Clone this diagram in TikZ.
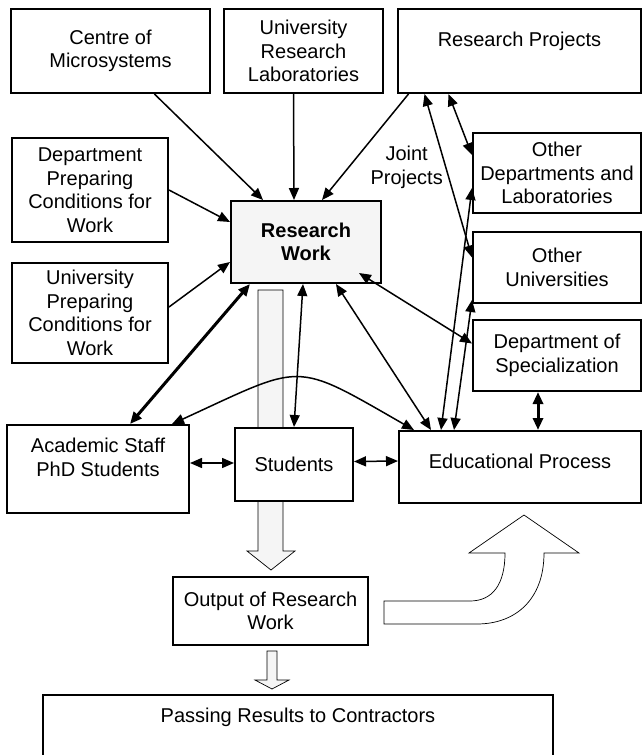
\documentclass[tikz,border=0pt]{standalone}
\usepackage{fontspec}
\setmainfont{Liberation Sans}
\usetikzlibrary{arrows.meta}

\begin{document}
\begin{tikzpicture}[x=1pt, y=-1pt,
        >={Triangle[length=12pt,width=10pt]},
        box/.style={draw, line width=2pt, fill=white, inner sep=0pt, align=center,
            font=\fontsize{20}{23.5}\selectfont},
        link/.style={line width=1.5pt},
        heavy/.style={line width=3pt},
        hollow/.style={draw, line width=0.7pt}]
        \useasboundingbox (0,0) rectangle (642,755);
        \clip (0,0) rectangle (642,755);

        % Wide arrows
        \draw[hollow, fill=gray!8] (258,290) -- (283,290) -- (283,551) -- (295,551) -- (271,570)
            -- (247,551) -- (258,551) -- cycle;
        \draw[hollow, fill=gray!8] (267,651) -- (277,651) -- (277,680) -- (289,680) -- (272,689)
            -- (255,680) -- (267,680) -- cycle;
        \draw[hollow, fill=white] (384,601) -- (470,601) .. controls (492,601) and (505,585) .. (505,553)
            -- (469,553) -- (524,515) -- (579,553) -- (544,553)
            .. controls (544,600) and (515,624) .. (477,624) -- (384,624) -- cycle;

        % Nodes
        \node[box, minimum width=199pt, minimum height=84pt] (centre) at (110.5,51) {Centre of\\Microsystems};
        \node[box, minimum width=159pt, minimum height=84pt] (url) at (303.5,51) {University\\Research\\Laboratories};
        \node[box, minimum width=243pt, text height=37pt, text depth=47pt] (rp) at (519.5,51) {Research Projects};
        \node[box, minimum width=156pt, minimum height=104pt] (deptprep) at (90,190) {Department\\Preparing\\Conditions for\\Work};
        \node[box, minimum width=150pt, minimum height=82pt, fill=gray!8, font=\fontsize{20}{23.5}\selectfont\bfseries] (rw) at (306,242) {Research\\Work};
        \node[box, minimum width=156pt, minimum height=100pt] (univprep) at (90,313) {University\\Preparing\\Conditions for\\Work};
        \node[box, minimum width=168pt, minimum height=80pt] (od) at (557,173) {Other\\Departments and\\Laboratories};
        \node[box, minimum width=168pt, minimum height=71pt] (ou) at (557,267.5) {Other\\Universities};
        \node[box, minimum width=168pt, minimum height=71pt] (spec) at (557,355.5) {Department of\\Specialization};
        \node[box, minimum width=182pt, minimum height=88pt] (staff) at (98,469) {Academic Staff\\PhD Students\\~};
        \node[box, minimum width=118pt, minimum height=73pt] (students) at (294,464.5) {Students};
        \node[box, minimum width=242pt, text height=37pt, text depth=35pt] (ep) at (520,467) {Educational Process};
        \node[box, minimum width=195pt, minimum height=68pt] (output) at (270.5,611) {Output of Research\\Work};
        \node[box, minimum width=510pt, text height=27pt, text depth=80pt] (passing) at (298,748.5) {Passing Results to Contractors};

        % Edges into research work
        \draw[link, ->] (centre) -- (rw);
        \draw[link, ->] ([xshift=-10pt]url.south) -- ([xshift=-12pt]rw.north);
        \draw[link, ->] ([xshift=-111pt]rp.south) -- ([xshift=16pt]rw.north);
        \draw[link, ->] (deptprep.east) -- ([yshift=20pt]rw.west);
        \draw[link, ->] ([yshift=6pt]univprep.east) -- ([yshift=-20pt]rw.west);
        \draw[heavy, <->] ([xshift=32pt]staff.north) -- ([xshift=-56pt]rw.south);
        \draw[link, <->] (students.north) -- ([xshift=-3pt]rw.south);
        \draw[link, <->] ([xshift=30pt]rw.south) -- ([xshift=-89pt]ep.north);
        \draw[link, <->] ([xshift=-23pt,yshift=11pt]rw.south east) -- ([yshift=12pt]spec.west);

        % Edges on the right
        \draw[link, <->] ([xshift=-95pt]rp.south) -- ([yshift=10pt]ou.west)
            node[pos=0.45, left=-1pt, align=center, font=\fontsize{20}{23.5}\selectfont] {Joint\\Projects};
        \draw[link, <->] ([xshift=-71pt]rp.south) -- ([yshift=18pt]od.west);
        \draw[link, <->] ([xshift=-79pt]ep.north) -- ([yshift=-15pt]od.west);
        \draw[link, <->] ([xshift=-66pt]ep.north) -- ([yshift=-32.5pt]ou.west);
        \draw[heavy, <->] ([xshift=-19pt]spec.south) -- ([xshift=18pt]ep.north);

        % Edges along the bottom row
        \draw[link, <->] ([yshift=6pt]staff.east) -- ([yshift=1.5pt]students.west);
        \draw[link, <->] ([yshift=3pt]students.east) -- ([yshift=6pt]ep.west);
        \draw[link, <->] ([xshift=74pt]staff.north) .. controls (305,363) and (292,360) .. ([xshift=-106pt]ep.north);
    \end{tikzpicture}
\end{document}
